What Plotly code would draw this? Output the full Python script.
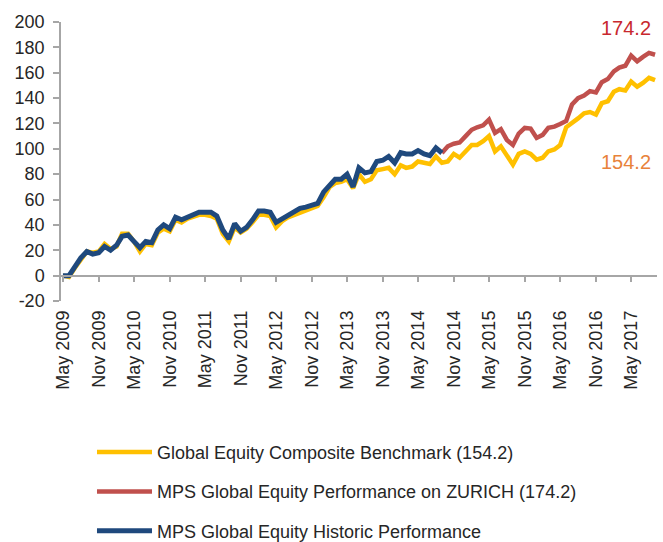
import plotly.graph_objects as go
import pandas as pd

# Monthly dates: May 2009 .. Sep 2017
dates = pd.date_range("2009-05-01", "2017-09-01", freq="MS")

benchmark = [
    0, -1, 6, 13, 19, 18, 19, 25, 21, 23,
    33, 33, 27, 19, 25, 24, 34, 37, 35, 44,
    42, 45, 46, 48, 48, 47, 45, 33, 27, 38,
    34, 37, 42, 48, 48, 47, 38, 43, 46, 48,
    50, 51, 53, 55, 62, 70, 73, 74, 76, 69,
    80, 74, 76, 83, 84, 85, 80, 87, 85, 86,
    90, 89, 88, 94, 89, 90, 96, 93, 98, 103,
    103, 106, 110, 98, 102, 94, 87.5, 96, 98, 96,
    91.5, 93, 98, 99.5, 103, 117, 121, 124, 128, 129,
    127, 136, 137.5, 145, 147, 146, 153, 149, 152, 156,
    154.2,
]

historic = [
    0, 0, 7, 14, 19, 17, 18, 23, 20, 24,
    31, 32, 27, 22, 27, 26, 36, 40, 37, 46,
    44, 46, 47, 50, 50, 50, 47, 36, 29, 41,
    35, 38, 44, 51, 51, 50, 42, 45, 48, 51,
    53, 54, 56, 57, 66, 72, 76, 76, 80, 70,
    85, 81, 82, 90, 91, 94, 89, 97, 96, 96,
    98.6, 96, 94.6, 100.7, 96.7,
]

zurich = [
    96.7, 102, 104, 105, 110, 115, 117, 118.5, 123, 112.5,
    115.5, 107, 103, 112, 116.5, 116, 108.6, 111, 116.5, 117.5,
    119.5, 122, 135, 140, 142, 145.5, 144.5, 152.5, 155, 161,
    164, 165.5, 173.5, 169, 172.5, 175.6, 174.2,
]

y_tickvals = [-20, 0, 20, 40, 60, 80, 100, 120, 140, 160, 180, 200]
y_ticktext = ["-20", "0", "20", "40", "60", "80", "100", "120", "140", "160", "180", "200"]

names = [
    "Global Equity Composite Benchmark (154.2)",
    "MPS Global Equity Performance on ZURICH (174.2)",
    "MPS Global Equity Historic Performance",
]
colors = ["#FFC000", "#C0504D", "#1F497D"]
end_labels = ["174.2", "154.2"]

hist_dates = dates[: len(historic)]
zur_dates = dates[len(historic) - 1:]

font_family = "Liberation Sans, Arial, sans-serif"
axis_grey = "#A6A6A6"
text_col = "#262626"

fig = go.Figure()
fig.add_trace(go.Scatter(x=dates, y=benchmark, mode="lines", name=names[0],
                         line=dict(color=colors[0], width=4.5), legendgroup="a"))
fig.add_trace(go.Scatter(x=zur_dates, y=zurich, mode="lines", name=names[1],
                         line=dict(color=colors[1], width=4.5), legendgroup="b"))
fig.add_trace(go.Scatter(x=hist_dates, y=historic, mode="lines", name=names[2],
                         line=dict(color=colors[2], width=5), legendgroup="c"))
# helper trace so the zero-line axis (x2) is drawn
fig.add_trace(go.Scatter(x=dates, y=benchmark, xaxis="x2", mode="lines",
                         line=dict(width=0), opacity=0, showlegend=False,
                         hoverinfo="skip"))

xrange = ["2009-04-21", "2017-09-11"]

fig.update_layout(
    width=663, height=542,
    margin=dict(l=61, r=6, t=22, b=241, autoexpand=False),
    paper_bgcolor="white", plot_bgcolor="white",
    font=dict(family=font_family, size=18, color=text_col),
    showlegend=True,
    legend=dict(
        x=0.052, y=-0.476, xanchor="left", yanchor="top",
        font=dict(size=18, color=text_col),
        itemwidth=55, tracegroupgap=13,
        bgcolor="rgba(0,0,0,0)",
    ),
    xaxis=dict(
        type="date", range=xrange, automargin=False,
        tick0="2009-05-01", dtick="M6", tickformat="%b %Y",
        tickangle=-90, showgrid=False, zeroline=False,
        showline=False, ticks="", ticklabelstandoff=5,
        tickfont=dict(size=18, color=text_col),
    ),
    xaxis2=dict(
        type="date", range=xrange, overlaying="x", matches="x",
        anchor="free", position=20 / 220, automargin=False,
        tick0="2009-05-01", dtick="M6",
        showticklabels=False, showgrid=False, zeroline=False,
        showline=True, linecolor=axis_grey, linewidth=1.5,
        ticks="outside", ticklen=6, tickcolor=axis_grey, tickwidth=1.5,
    ),
    yaxis=dict(
        range=[-20, 200], tickmode="array",
        tickvals=y_tickvals, ticktext=y_ticktext, automargin=False,
        showgrid=False, zeroline=False,
        showline=True, linecolor=axis_grey, linewidth=1.5,
        ticks="outside", ticklen=6, tickcolor=axis_grey, tickwidth=1.5,
        ticklabelstandoff=5,
        tickfont=dict(size=18, color=text_col),
    ),
    annotations=[
        dict(text=end_labels[0], xref="paper", yref="paper", x=0.948, y=0.977,
             xanchor="center", yanchor="middle",
             showarrow=False, font=dict(size=20, color="#C8282E")),
        dict(text=end_labels[1], xref="paper", yref="paper", x=0.948, y=0.498,
             xanchor="center", yanchor="middle",
             showarrow=False, font=dict(size=20, color="#E8823A")),
    ],
)

fig.write_html("out.html", config={"displayModeBar": False},
               post_script="document.body.style.margin='0';")
